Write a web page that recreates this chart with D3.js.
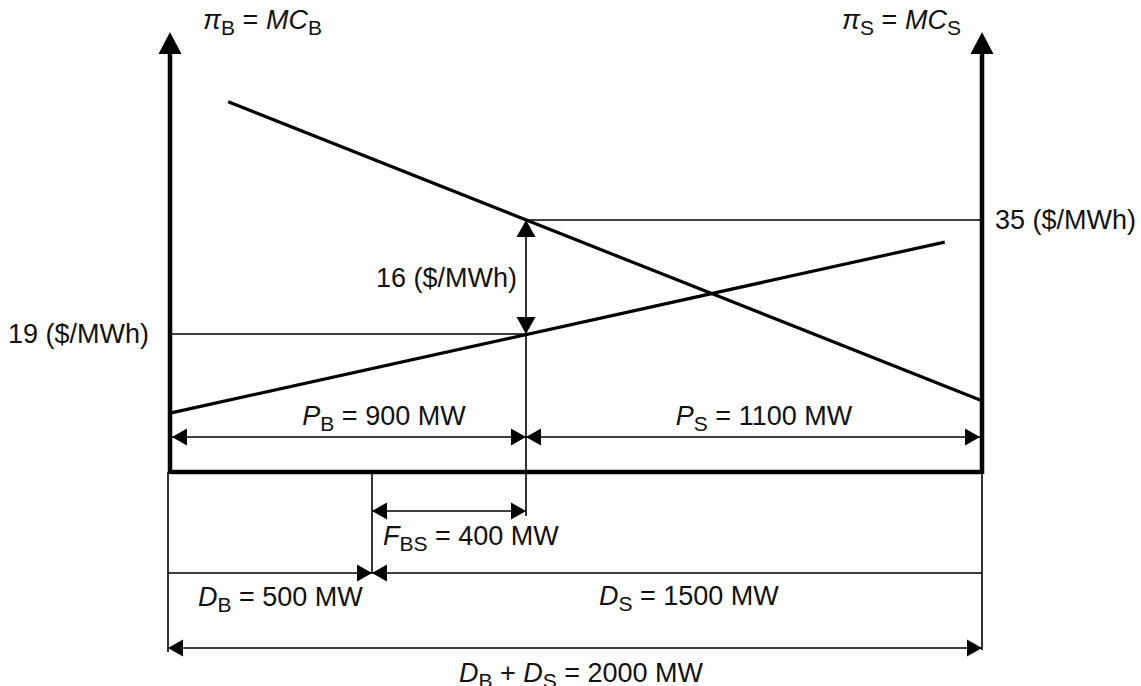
<!DOCTYPE html>
<head>
  <meta charset="utf-8">
  <script src="https://d3js.org/d3.v7.min.js"></script>
  <style>
    body { margin: 0; background: #fff; }
    text { font-family: "Liberation Sans", Arial, sans-serif; fill: #111; }
  </style>
</head>
<body>
<svg id="chart"></svg>
<script>
  var width = 1141;
  var height = 686;

  // quantities in MW
  var flowMW = [0, 500, 900, 2000];       // key positions on the horizontal axis
  var demandB = 500, demandS = 1500, totalDemand = 2000;
  var prodB = 900, prodS = 1100, flowBS = 400;
  // prices in $/MWh
  var priceTicks = [0, 19, 35];
  var priceB = 19, priceS = 35, priceGap = 16;
  // marginal cost lines, [MW of P_B, $/MWh]
  var mcB = [[0, 8.1], [1910, 31.9]];
  var mcS = [[144, 51.6], [2000, 9.8]];

  var svg = d3.select("#chart")
    .attr("width", width)
    .attr("height", height);

  // schematic scales (the drawing is not exactly linear)
  var x = d3.scaleLinear().domain(flowMW).range([170, 372, 526, 982]);
  var y = d3.scaleLinear().domain(priceTicks).range([472, 334, 220]);

  // rows of the dimension arrows
  var rowP = 437, rowF = 511, rowD = 573, rowT = 648;
  var axisTop = 32;

  function line(x1, y1, x2, y2, w) {
    svg.append("line")
      .attr("x1", x1).attr("y1", y1).attr("x2", x2).attr("y2", y2)
      .attr("stroke", "#000").attr("stroke-width", w);
  }

  // filled triangle with its tip at (tx,ty), pointing in direction dir
  function head(tx, ty, dir, len, wid) {
    len = len || 15; wid = wid || 17;
    var d = {left: [-1, 0], right: [1, 0], up: [0, -1], down: [0, 1]}[dir];
    var bx = tx - d[0] * len, by = ty - d[1] * len;
    var px = -d[1] * wid / 2, py = d[0] * wid / 2;
    svg.append("path")
      .attr("d", "M" + tx + "," + ty + "L" + (bx + px) + "," + (by + py) + "L" + (bx - px) + "," + (by - py) + "Z")
      .attr("fill", "#000");
  }

  // label with italic letter + subscript pieces: parts = [[text, style], ...]
  function label(px, py, parts, anchor) {
    var t = svg.append("text")
      .attr("x", px).attr("y", py)
      .attr("font-size", 27)
      .attr("text-anchor", anchor || "start");
    parts.forEach(function(p) {
      var s = t.append("tspan").text(p[0]);
      if (p[1] == "i") s.attr("font-style", "italic");
      if (p[1] == "sub") s.attr("font-size", 21).attr("dy", 6);
      if (p[1] == "up") s.attr("dy", -6);
    });
  }

  // thin guide lines
  line(x(0), y(priceB), x(prodB), y(priceB), 1.6);
  line(x(prodB), y(priceS), x(totalDemand), y(priceS), 1.6);
  line(x(prodB), y(priceS), x(prodB), rowF + 5, 1.6);
  line(x(0) - 2, y(0), x(0) - 2, rowT + 4, 1.6);
  line(x(totalDemand), y(0), x(totalDemand), rowT + 2, 1.6);
  line(x(demandB), y(0), x(demandB), rowD, 1.6);

  // 16 $/MWh price difference
  head(x(prodB), y(priceS), "up", 17, 19);
  head(x(prodB), y(priceB), "down", 17, 19);

  // marginal cost lines
  [mcB, mcS].forEach(function(m) {
    svg.append("path")
      .attr("d", d3.line().x(function(d) { return x(d[0]); }).y(function(d) { return y(d[1]); })(m))
      .attr("fill", "none")
      .attr("stroke", "#000")
      .attr("stroke-width", 3.2);
  });

  // axes
  line(x(0), y(0), x(totalDemand), y(0), 4.5);
  line(x(0), y(0) + 2, x(0), axisTop + 20, 4.5);
  line(x(totalDemand), y(0) + 2, x(totalDemand), axisTop + 20, 4.5);
  head(x(0), axisTop, "up", 22, 23);
  head(x(totalDemand), axisTop, "up", 22, 23);

  // P_B and P_S
  line(x(0), rowP, x(prodB), rowP, 1.6);
  head(x(0) + 2, rowP, "left"); head(x(prodB), rowP, "right");
  line(x(prodB), rowP, x(totalDemand), rowP, 1.6);
  head(x(prodB), rowP, "left"); head(x(totalDemand) - 2, rowP, "right");

  // F_BS
  line(x(prodB - flowBS), rowF, x(prodB), rowF, 1.6);
  head(x(prodB - flowBS), rowF, "left"); head(x(prodB), rowF, "right");

  // D_B and D_S
  line(x(0) - 2, rowD, x(demandB), rowD, 1.6);
  head(x(demandB), rowD, "right");
  line(x(demandB), rowD, x(totalDemand), rowD, 1.6);
  head(x(demandB), rowD, "left");

  // D_B + D_S
  line(x(0), rowT, x(totalDemand), rowT, 1.6);
  head(x(0) - 2, rowT, "left"); head(x(totalDemand), rowT, "right");

  // labels
  label(203, 29, [["π", "i"], ["B", "sub"], [" = ", "up"], ["MC", "i"], ["B", "sub"]]);
  label(842, 29, [["π", "i"], ["S", "sub"], [" = ", "up"], ["MC", "i"], ["S", "sub"]]);
  label(x(totalDemand) + 13, y(priceS) + 9, [[priceS + " ($/MWh)"]]);
  label(x(0) - 21, y(priceB) + 9, [[priceB + " ($/MWh)"]], "end");
  label(x(prodB) - 9, 287, [[priceGap + " ($/MWh)"]], "end");
  label(384, 425, [["P", "i"], ["B", "sub"], [" = " + prodB + " MW", "up"]], "middle");
  label(764, 425, [["P", "i"], ["S", "sub"], [" = " + prodS + " MW", "up"]], "middle");
  label(383, 545, [["F", "i"], ["BS", "sub"], [" = " + flowBS + " MW", "up"]]);
  label(198, 606, [["D", "i"], ["B", "sub"], [" = " + demandB + " MW", "up"]]);
  label(599, 605, [["D", "i"], ["S", "sub"], [" = " + demandS + " MW", "up"]]);
  label(581, 682, [["D", "i"], ["B", "sub"], [" + ", "up"], ["D", "i"], ["S", "sub"], [" = " + totalDemand + " MW", "up"]], "middle");
</script>
</body>
